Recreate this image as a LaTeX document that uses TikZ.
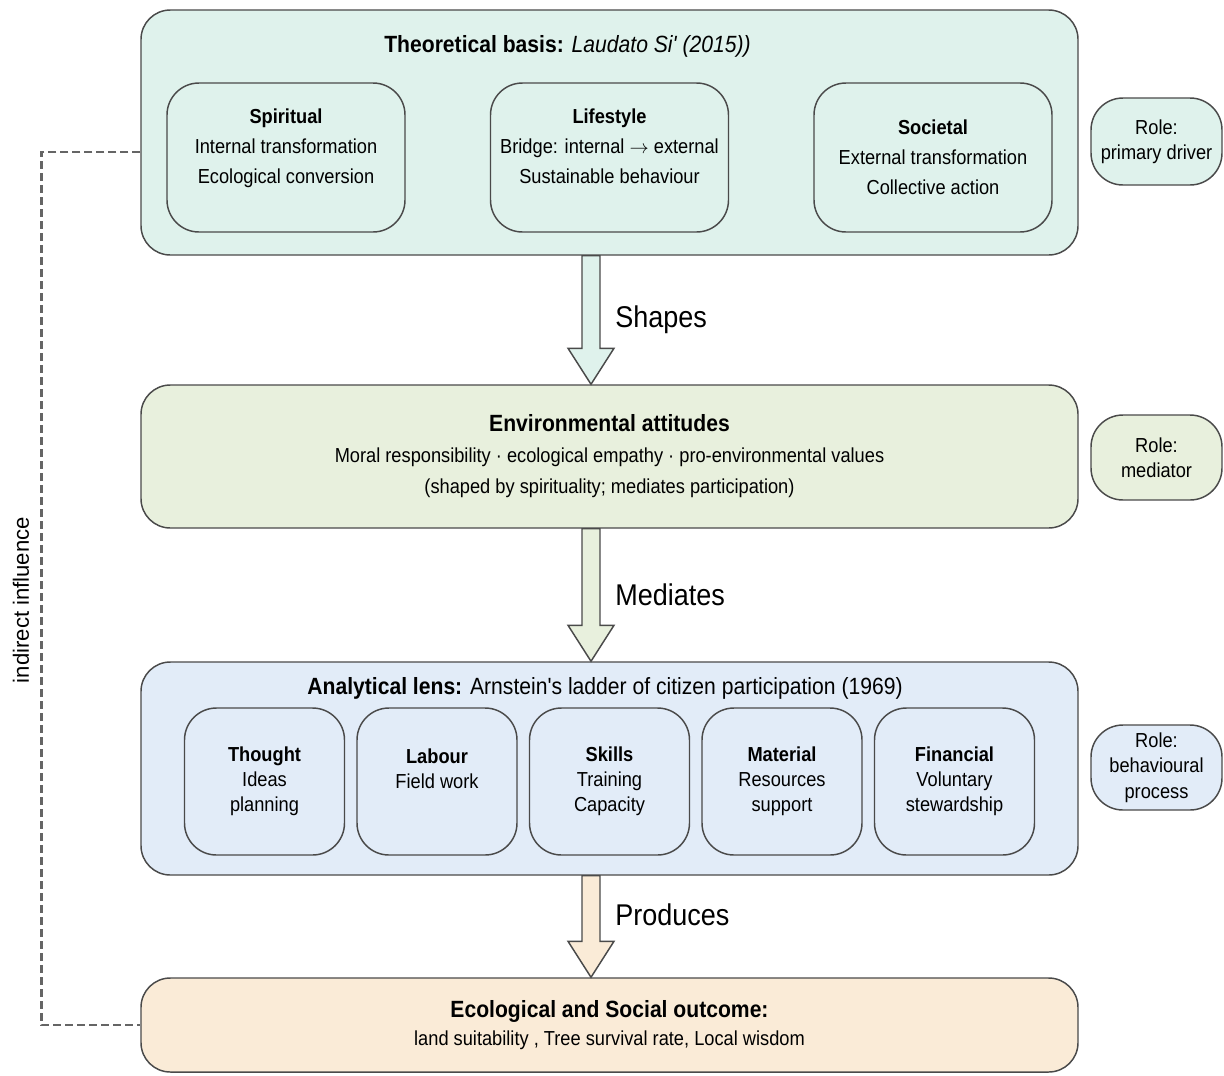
\documentclass[tikz,border=0pt]{standalone}
\usepackage{fontspec}
\setmainfont{Liberation Sans}[FakeStretch=0.9,Ligatures=TeXOff]
\newfontfamily\sidefamily{Liberation Sans}
\usepackage{xcolor}
\usepackage{tikz}
\usetikzlibrary{calc}

\definecolor{basisfill}{HTML}{DFF2EC}
\definecolor{attfill}{HTML}{E8F0DD}
\definecolor{lensfill}{HTML}{E2ECF8}
\definecolor{outfill}{HTML}{FAEBD7}
\definecolor{edge}{HTML}{4A4A4A}

\newcommand{\bodyfont}{\fontsize{15.2pt}{22.5pt}\selectfont}
\newcommand{\lensfont}{\fontsize{15.2pt}{18.75pt}\selectfont}
\newcommand{\rolefont}{\fontsize{15.2pt}{19pt}\selectfont}
\newcommand{\envfont}{\fontsize{15.2pt}{23.25pt}\selectfont}
\newcommand{\outfont}{\fontsize{15.2pt}{21pt}\selectfont}
\newcommand{\headfont}{\fontsize{17.6pt}{21pt}\selectfont}
\newcommand{\flowfont}{\fontsize{22.5pt}{26pt}\selectfont}
\newcommand{\sidefont}{\sidefamily\fontsize{16.6pt}{20pt}\selectfont}

% block arrow from one box to the next, along the axis
\newcommand{\blockarrow}[3]{%
  \filldraw[edgeline, fill=#3]
    ($(#1 -| axis)+(-9,0)$) -- ($(#2 -| axis)+(-9,-36)$) -- ($(#2 -| axis)+(-23,-36)$)
    -- (#2 -| axis) -- ($(#2 -| axis)+(23,-36)$) -- ($(#2 -| axis)+(9,-36)$)
    -- ($(#1 -| axis)+(9,0)$) -- cycle;}

\begin{document}
\begin{tikzpicture}[x=0.75pt, y=-0.75pt,
    group/.style={draw=edge, line width=1.1pt, rounded corners=22pt, inner sep=0pt, minimum width=702.75pt},
    part/.style={draw=edge, line width=1.1pt, rounded corners=24pt, align=center, inner sep=0pt},
    pillar/.style={part, fill=basisfill, font=\bodyfont, minimum width=178.5pt, minimum height=111.75pt},
    rung/.style={part, fill=lensfill, font=\lensfont, minimum width=120pt, minimum height=110.25pt},
    role/.style={part, font=\rolefont, minimum width=98.25pt, minimum height=63.75pt},
    title/.style={font=\headfont, inner sep=0pt},
    flowlabel/.style={font=\flowfont, anchor=west, inner sep=0pt},
    edgeline/.style={draw=edge, line width=1.1pt, line join=miter},
    influence/.style={draw=edge!85, line width=1.9pt, dash pattern=on 6pt off 3pt}]
        \useasboundingbox (0,0) rectangle (1224,1075);
        \coordinate (axis) at (591,0);

        \node[group, fill=basisfill, minimum height=183.75pt] (basis) at (609.5,132.5) {};
        \node[title] (basistitle) at (567.5,46) {\textbf{Theoretical basis:} \textit{Laudato Si' (2015))}};
        \node[pillar] (spiritual) at (286,157.5) {\textbf{Spiritual}\\Internal transformation\\Ecological conversion\\[-6pt]\mbox{}};
        \node[pillar] (lifestyle) at (609.5,157.5) {\textbf{Lifestyle}\\Bridge: internal $\rightarrow$ external\\Sustainable behaviour\\[-6pt]\mbox{}};
        \node[pillar] (societal) at (933,157.5) {\textbf{Societal}\\External transformation\\Collective action};
        \node[role, fill=basisfill, minimum height=65.25pt] (driver) at (1156.5,141.5) {Role:\\primary driver};

        \node[group, fill=attfill, minimum height=107.25pt, align=center, font=\envfont] (attitudes) at (609.5,456.5)
            {{\headfont\textbf{Environmental attitudes}}\\Moral responsibility · ecological empathy · pro-environmental values\\(shaped by spirituality; mediates participation)};
        \node[role, fill=attfill] (mediator) at (1156.5,457.5) {Role:\\mediator};

        \node[group, fill=lensfill, minimum height=159.75pt] (lens) at (609.5,768.5) {};
        \node[title] (lenstitle) at (605,688) {\textbf{Analytical lens:} Arnstein's ladder of citizen participation (1969)};
        \node[rung] (thought) at (264.5,781.5) {\textbf{Thought}\\Ideas\\planning};
        \node[rung] (labour) at (437,781.5) {\textbf{Labour}\\Field work\\ \mbox{}};
        \node[rung] (skills) at (609.5,781.5) {\textbf{Skills}\\Training\\Capacity};
        \node[rung] (material) at (782,781.5) {\textbf{Material}\\Resources\\support};
        \node[rung] (financial) at (954.5,781.5) {\textbf{Financial}\\Voluntary\\stewardship};
        \node[role, fill=lensfill] (process) at (1156.5,767.5) {Role:\\behavioural\\process};

        \node[group, fill=outfill, minimum height=70.5pt, align=center, font=\outfont] (outcome) at (609.5,1025)
            {{\headfont\textbf{Ecological and Social outcome:}}\\land suitability , Tree survival rate, Local wisdom};

        \blockarrow{basis.south}{attitudes.north}{basisfill}
        \blockarrow{attitudes.south}{lens.north}{attfill}
        \blockarrow{lens.south}{outcome.north}{outfill}

        \node[flowlabel] (shapes) at (615,320) {Shapes};
        \node[flowlabel] (mediates) at (615,595) {Mediates};
        \node[flowlabel] (produces) at (615,915) {Produces};

        \draw[influence] ($(basis.west)+(0,19.5)$) -- ++(-99,0) |- (outcome.west);
        \node[font=\sidefont, rotate=90, inner sep=0pt] (influencelabel) at (21,600) {indirect influence};
    \end{tikzpicture}
\end{document}
